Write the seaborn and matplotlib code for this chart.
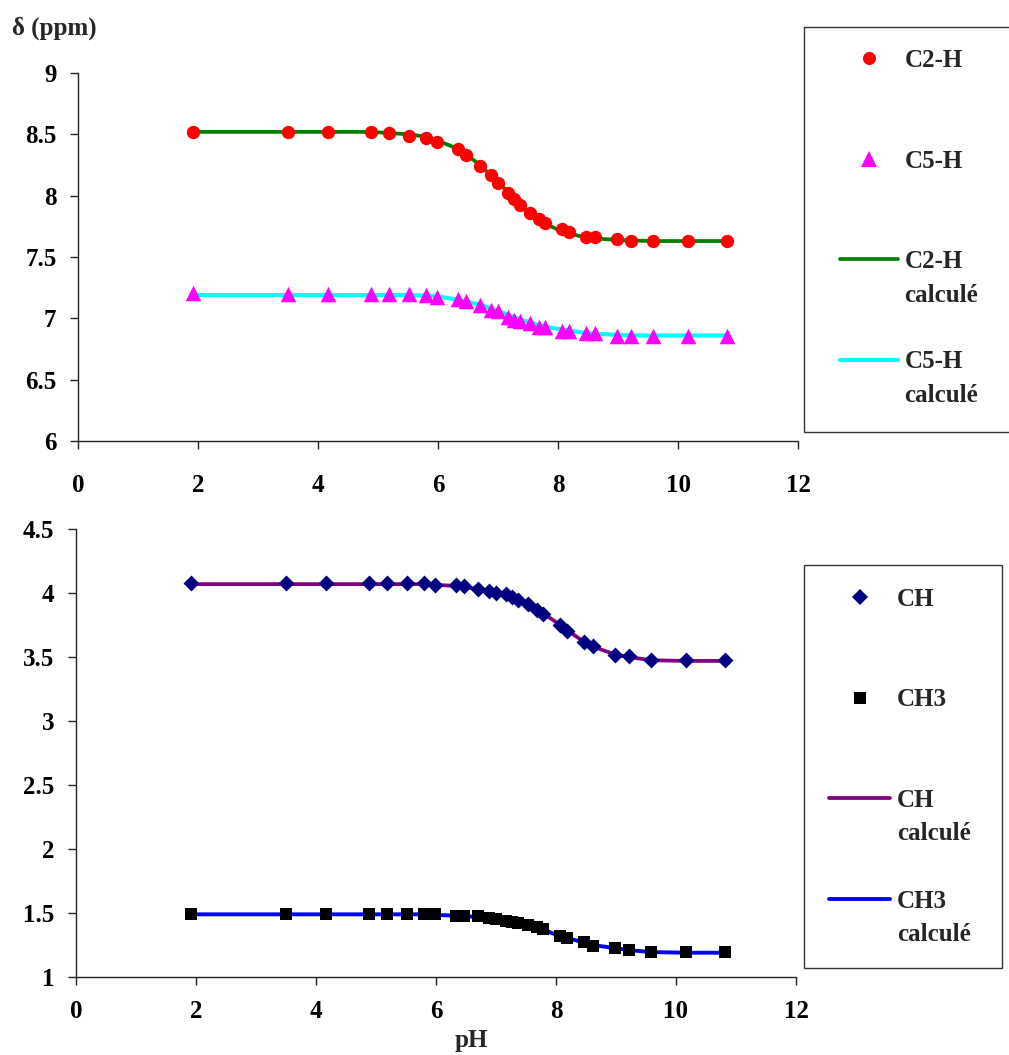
import matplotlib
matplotlib.use("Agg")
import matplotlib.pyplot as plt
from matplotlib.lines import Line2D
from matplotlib.patches import Rectangle
import seaborn as sns
import pandas as pd

# pH values of the titration points
ph = [1.91, 3.50, 4.16, 4.89, 5.19, 5.52, 5.80, 5.99, 6.34, 6.46, 6.70, 6.89, 7.00, 7.17,
      7.27, 7.36, 7.53, 7.69, 7.79, 8.06, 8.19, 8.46, 8.62, 8.99, 9.22, 9.59, 10.16, 10.81]

# top panel: imidazole protons
c2h = [8.52, 8.52, 8.52, 8.52, 8.51, 8.49, 8.47, 8.44, 8.38, 8.33, 8.24, 8.17, 8.10, 8.02,
       7.97, 7.92, 7.86, 7.81, 7.78, 7.73, 7.70, 7.66, 7.66, 7.65, 7.63, 7.63, 7.63, 7.63]
c2h_calc = [8.52, 8.52, 8.52, 8.52, 8.51, 8.50, 8.48, 8.45, 8.38, 8.34, 8.25, 8.16, 8.11, 8.03,
            7.97, 7.93, 7.86, 7.80, 7.77, 7.71, 7.69, 7.66, 7.65, 7.64, 7.635, 7.63, 7.63, 7.63]
c5h = [7.21, 7.20, 7.20, 7.20, 7.20, 7.20, 7.19, 7.17, 7.16, 7.14, 7.11, 7.07, 7.06, 7.01,
       6.99, 6.98, 6.96, 6.93, 6.93, 6.90, 6.90, 6.88, 6.88, 6.86, 6.86, 6.86, 6.86, 6.86]
c5h_calc = [7.19, 7.19, 7.19, 7.19, 7.19, 7.19, 7.185, 7.18, 7.15, 7.14, 7.11, 7.08, 7.06, 7.03,
            7.01, 6.99, 6.97, 6.94, 6.93, 6.91, 6.90, 6.88, 6.875, 6.865, 6.86, 6.86, 6.86, 6.86]

# bottom panel: CH and CH3
ch = [4.08, 4.08, 4.08, 4.08, 4.08, 4.08, 4.08, 4.065, 4.06, 4.055, 4.035, 4.02, 4.00, 3.99,
      3.97, 3.945, 3.915, 3.87, 3.835, 3.75, 3.705, 3.62, 3.585, 3.52, 3.51, 3.475, 3.48, 3.48]
ch_calc = [4.07, 4.07, 4.07, 4.07, 4.07, 4.07, 4.07, 4.065, 4.055, 4.05, 4.03, 4.01, 4.00, 3.98,
           3.965, 3.945, 3.91, 3.87, 3.84, 3.755, 3.71, 3.62, 3.58, 3.52, 3.50, 3.475, 3.47, 3.47]
ch3 = [1.49, 1.49, 1.49, 1.49, 1.49, 1.49, 1.49, 1.49, 1.48, 1.48, 1.48, 1.46, 1.455, 1.44,
       1.43, 1.42, 1.405, 1.39, 1.375, 1.32, 1.305, 1.275, 1.24, 1.225, 1.21, 1.195, 1.195, 1.195]
ch3_calc = [1.49, 1.49, 1.49, 1.49, 1.49, 1.49, 1.49, 1.485, 1.48, 1.475, 1.47, 1.46, 1.45, 1.44,
            1.43, 1.42, 1.40, 1.38, 1.37, 1.32, 1.305, 1.27, 1.25, 1.225, 1.21, 1.195, 1.19, 1.19]

xticks = [0, 2, 4, 6, 8, 10, 12]
top_yticks = [6, 6.5, 7, 7.5, 8, 8.5, 9]
bottom_yticks = [1, 1.5, 2, 2.5, 3, 3.5, 4, 4.5]

sns.set_theme(style="ticks")
plt.rcParams["font.family"] = ["Liberation Serif", "DejaVu Serif"]
plt.rcParams["font.weight"] = "bold"

df = pd.DataFrame({"pH": ph, "c2h": c2h, "c2h_calc": c2h_calc, "c5h": c5h, "c5h_calc": c5h_calc,
                   "ch": ch, "ch_calc": ch_calc, "ch3": ch3, "ch3_calc": ch3_calc})

FS = 18

fig = plt.figure(figsize=(10.09, 10.55), dpi=100)
ax1 = fig.add_axes([0.0773, 0.582, 0.7136, 0.3488])
ax2 = fig.add_axes([0.0753, 0.0739, 0.7136, 0.4246])

# calculated curves
sns.lineplot(data=df, x="pH", y="c2h_calc", ax=ax1, color="#008000", lw=2.7, estimator=None, sort=False)
sns.lineplot(data=df, x="pH", y="c5h_calc", ax=ax1, color="#00FFFF", lw=3.0, estimator=None, sort=False)
sns.lineplot(data=df, x="pH", y="ch_calc", ax=ax2, color="#800080", lw=2.7, estimator=None, sort=False)
sns.lineplot(data=df, x="pH", y="ch3_calc", ax=ax2, color="#0000FF", lw=2.8, estimator=None, sort=False)

# measured points
sns.scatterplot(data=df, x="pH", y="c2h", ax=ax1, color="#FF0000", marker="o", s=92, linewidth=0, zorder=3)
sns.scatterplot(data=df, x="pH", y="c5h", ax=ax1, color="#FF00FF", marker="^", s=125, linewidth=0, zorder=3)
sns.scatterplot(data=df, x="pH", y="ch", ax=ax2, color="#000080", marker="D", s=66, linewidth=0, zorder=3)
sns.scatterplot(data=df, x="pH", y="ch3", ax=ax2, color="#000000", marker="s", s=72, linewidth=0, zorder=3)

for ax, yt, lim, xpad in [(ax1, top_yticks, (6, 9), 18), (ax2, bottom_yticks, (1, 4.5), 11)]:
    ax.set_xlim(0, 12)
    ax.set_ylim(*lim)
    ax.set_xticks(xticks)
    ax.set_yticks(yt)
    ax.set_yticklabels([f"{v:g}" for v in yt])
    ax.set_xlabel("")
    ax.set_ylabel("")
    sns.despine(ax=ax)
    for s in ["left", "bottom"]:
        ax.spines[s].set_color("#222222")
        ax.spines[s].set_linewidth(1.0)
    ax.tick_params(axis="both", direction="out", length=5.5, width=1.0, color="#222222",
                   labelsize=FS, labelcolor="black")
    ax.tick_params(axis="x", pad=xpad)
    ax.tick_params(axis="y", pad=10)
    for lab in ax.get_xticklabels() + ax.get_yticklabels():
        lab.set_fontweight("bold")
    ax.set_facecolor("white")

fig.text(12 / 1009, 1 - 28 / 1055, "δ (ppm)", ha="left", va="center", fontsize=FS, fontweight="bold")
fig.text(471 / 1009, 1 - 1040 / 1055, "pH", ha="center", va="center", fontsize=FS, fontweight="bold")


def blank():
    return Line2D([], [], linestyle="none")


top_handles = [
    Line2D([], [], marker="o", color="#FF0000", linestyle="none", markersize=9.4, markeredgewidth=0),
    blank(), blank(),
    Line2D([], [], marker="^", color="#FF00FF", linestyle="none", markersize=11, markeredgewidth=0),
    blank(), blank(),
    Line2D([], [], color="#008000", lw=2.7),
    blank(), blank(),
    Line2D([], [], color="#00FFFF", lw=3.0),
    blank(),
]
top_labels = ["C2-H", " ", " ", "C5-H", " ", " ", "C2-H", "calculé", " ", "C5-H", "calculé"]

bottom_handles = [
    Line2D([], [], marker="D", color="#000080", linestyle="none", markersize=8, markeredgewidth=0),
    blank(), blank(),
    Line2D([], [], marker="s", color="#000000", linestyle="none", markersize=8.6, markeredgewidth=0),
    blank(), blank(),
    Line2D([], [], color="#800080", lw=2.7),
    blank(), blank(),
    Line2D([], [], color="#0000FF", lw=2.8),
    blank(),
]
bottom_labels = ["CH", " ", " ", "CH3", " ", " ", "CH", "calculé", " ", "CH3", "calculé"]

leg1 = fig.legend(top_handles, top_labels, loc="upper left", bbox_to_anchor=(840 / 1009, 1 - 49 / 1055),
                  frameon=False, borderpad=0, borderaxespad=0, handlelength=2.3, handletextpad=0.28,
                  labelspacing=0.42, prop={"size": FS, "weight": "bold"})
leg2 = fig.legend(bottom_handles, bottom_labels, loc="upper left", bbox_to_anchor=(829 / 1009, 1 - 588 / 1055),
                  frameon=False, borderpad=0, borderaxespad=0, handlelength=2.45, handletextpad=0.28,
                  labelspacing=0.42, prop={"size": FS, "weight": "bold"})

fig.add_artist(Rectangle((804 / 1009, 1 - 432 / 1055), 0.21, 405 / 1055, transform=fig.transFigure,
                         fill=False, edgecolor="#333333", lw=1.0))
fig.add_artist(Rectangle((804 / 1009, 1 - 968 / 1055), 198 / 1009, 403 / 1055, transform=fig.transFigure,
                         fill=False, edgecolor="#333333", lw=1.0))

fig.savefig("out.png", dpi=100, facecolor="white")
